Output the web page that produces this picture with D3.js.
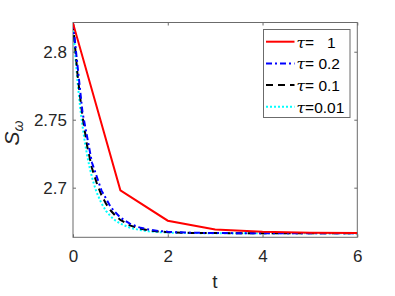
<!DOCTYPE html>
<html><head><meta charset="utf-8">
<script src="https://cdn.jsdelivr.net/npm/d3@7"></script>
<style>body{margin:0;background:#fff}svg{display:block}text{font-family:"Liberation Sans",Arial,sans-serif}</style>
</head><body>
<script>
// Data
const redT = [0,1,2,3,4,5,6];
const redV = [2.8210,2.6980,2.6757,2.6693,2.6676,2.6668,2.6666];
const blueT = [0,0.2,0.4,0.6,0.8,1.0,1.2,1.4,1.6,1.8,2.0,2.2,2.4,2.6,2.8,3.0,3.5,4,4.5,5,5.5,6];
const blueV = [2.8210,2.7555,2.7185,2.6980,2.6855,2.6780,2.6735,2.6708,2.6692,2.6682,2.6676,2.6672,2.66695,2.6668,2.6667,2.66663,2.66655,2.6665,2.6665,2.6665,2.6665,2.6665];
const blackT = [0,0.1,0.2,0.3,0.4,0.5,0.6,0.7,0.8,0.9,1.0,1.2,1.4,1.6,1.8,2.0,2.5,3,4,5,6];
const blackV = [2.8210,2.7815,2.7525,2.7305,2.7145,2.7035,2.6945,2.6880,2.6830,2.6792,2.6763,2.6723,2.6700,2.6686,2.6678,2.6673,2.6667,2.6666,2.6665,2.6665,2.6665];
const cyanT = [0,0.05,0.1,0.15,0.2,0.25,0.3,0.35,0.4,0.45,0.5,0.6,0.7,0.8,0.9,1.0,1.2,1.4,1.6,1.8,2.0,2.5,3,4,5,6];
const cyanV = [2.8210,2.7965,2.7765,2.7595,2.7455,2.7335,2.7235,2.7150,2.7078,2.7017,2.6965,2.6885,2.6828,2.6787,2.6757,2.6735,2.6706,2.6689,2.6679,2.6673,2.6670,2.6666,2.6665,2.6665,2.6665,2.6665];
const legendLabels = ["\u03c4=   1","\u03c4= 0.2","\u03c4= 0.1","\u03c4=0.01"];
const xTicks = [0,2,4,6];
const yTicks = [2.7,2.75,2.8];

const W=395,H=296;
const m={l:73,r:357.3,t:22.5,b:237.3};
const svg=d3.select("body").append("svg").attr("width",W).attr("height",H);
const x=d3.scaleLinear().domain([0,6]).range([m.l,m.r]);
const y=d3.scaleLinear().domain([2.6635,2.8215]).range([m.b,m.t]);

const axisCol="#6b6b6b";
function styleAx(g){g.select(".domain").remove();g.selectAll("line").attr("stroke",axisCol);g.selectAll("text").attr("fill","#262626").attr("font-size",17);}
svg.append("g").attr("transform",`translate(0,${m.b})`).call(d3.axisBottom(x).tickValues(xTicks).tickFormat(d3.format("d")).tickSize(-3).tickPadding(13)).call(styleAx);
svg.append("g").attr("transform",`translate(0,${m.t})`).call(d3.axisTop(x).tickValues(xTicks).tickFormat("").tickSize(-3)).call(styleAx);
svg.append("g").attr("transform",`translate(${m.l},0)`).call(d3.axisLeft(y).tickValues(yTicks).tickFormat(d=>String(d)).tickSize(-3).tickPadding(6)).call(styleAx);
svg.append("g").attr("transform",`translate(${m.r},0)`).call(d3.axisRight(y).tickValues(yTicks).tickFormat("").tickSize(-3)).call(styleAx);
svg.append("rect").attr("x",m.l).attr("y",m.t).attr("width",m.r-m.l).attr("height",m.b-m.t).attr("fill","none").attr("stroke",axisCol).attr("stroke-width",1);

const series=[
 {t:redT,v:redV,c:"#ff0000",d:null},
 {t:blueT,v:blueV,c:"#0000ff",d:"6,3,2,3"},
 {t:blackT,v:blackV,c:"#000000",d:"7,5"},
 {t:cyanT,v:cyanV,c:"#00ffff",d:"2,2"}
];
const line=d3.line().x(d=>x(d[0])).y(d=>y(d[1]));
svg.append("clipPath").attr("id","cp").append("rect").attr("x",m.l).attr("y",m.t-1).attr("width",m.r-m.l).attr("height",m.b-m.t+1);
series.slice().reverse().forEach(s=>{
  svg.append("path").attr("d",line(d3.zip(s.t,s.v))).attr("fill","none").attr("stroke",s.c).attr("stroke-width",2).attr("stroke-dasharray",s.d).attr("clip-path","url(#cp)");
});

// legend
const lg=svg.append("g");
lg.append("rect").attr("x",263.5).attr("y",29.5).attr("width",86.5).attr("height",88).attr("fill","#fff").attr("stroke",axisCol).attr("stroke-width",1);
series.forEach((s,i)=>{
  const yy=41.7+i*21.7;
  lg.append("line").attr("x1",266).attr("x2",294.5).attr("y1",yy).attr("y2",yy).attr("stroke",s.c).attr("stroke-width",2).attr("stroke-dasharray",s.d);
  const parts=legendLabels[i].split("=");
  const tx=lg.append("text").attr("x",296.5).attr("y",yy+6).attr("font-size",15.5).attr("fill","#000").attr("xml:space","preserve").style("white-space","pre");
  tx.append("tspan").attr("font-family","'DejaVu Serif',serif").attr("font-style","italic").text(parts[0]);
  tx.append("tspan").text("="+parts[1]);
});

// axis labels
svg.append("text").attr("x",215).attr("y",288).attr("text-anchor","middle").attr("font-size",19).attr("font-family","'Liberation Serif',serif").attr("fill","#262626").text("t");
const yl=svg.append("text").attr("transform","translate(19,133) rotate(-90)").attr("text-anchor","middle").attr("fill","#262626").attr("font-family","'Liberation Serif',serif").attr("font-style","italic");
yl.append("tspan").attr("font-size",21).text("S");
yl.append("tspan").attr("font-size",14).attr("dy",4).text("\u03c9");
</script>
</body></html>
